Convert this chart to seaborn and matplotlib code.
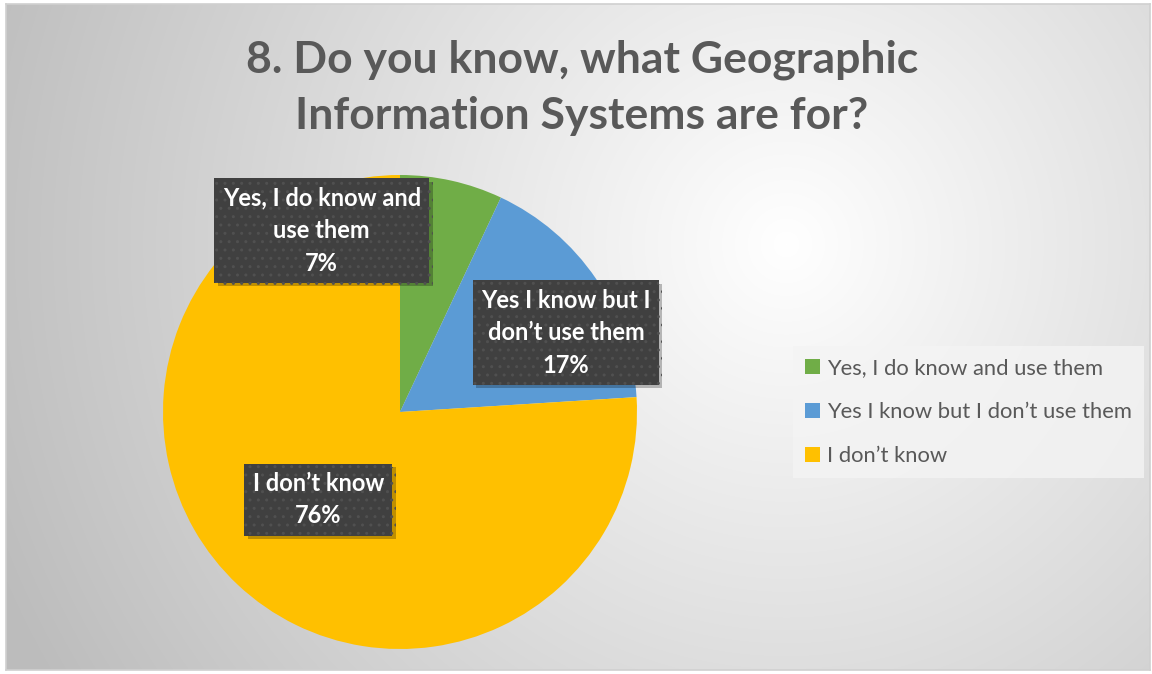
import numpy as np
import matplotlib.pyplot as plt
import matplotlib.patheffects as pe
import seaborn as sns

# data
categories = ["Yes, I do know and use them", "Yes I know but I don\u2019t use them", "I don\u2019t know"]
box_labels = ["Yes, I do know and\nuse them", "Yes I know but I\ndon\u2019t use them", "I don\u2019t know"]
shares = [7, 17, 76]
colors = ["#70AD47", "#5B9BD5", "#FFC000"]
title = "8. Do you know, what Geographic\nInformation Systems are for?"

sns.set_theme(style="white")
plt.rcParams['font.family'] = ['Lato', 'DejaVu Sans']

W, H = 1152, 674
fig = plt.figure(figsize=(W / 100, H / 100), dpi=100)
fig.patch.set_facecolor("white")

# background: radial gradient like the Excel chart area
bg = fig.add_axes([6 / W, 4 / H, 1144 / W, 666 / H])
yy, xx = np.mgrid[0:666, 0:1144]
d = np.sqrt((xx - 780) ** 2 + (yy - 240) ** 2) / 820
g = np.clip(1.0 - 0.25 * d, 0.74, 1.0)
bg.imshow(np.dstack([g, g, g]), aspect="auto", extent=[0, 1, 0, 1])
bg.set_xticks([])
bg.set_yticks([])
for s in bg.spines.values():
    s.set_color("#d0d0d0")
    s.set_linewidth(1.2)

# pie
cx, cy, r = 400, 412, 237
ax = fig.add_axes([(cx - r) / W, (H - cy - r) / H, 2 * r / W, 2 * r / H])
ax.set_facecolor("none")
wedges, _ = ax.pie(shares, colors=colors, startangle=90, counterclock=False,
                   radius=1, wedgeprops=dict(linewidth=0))
ax.set_xlim(-1, 1)
ax.set_ylim(-1, 1)
ax.set_aspect("equal")
ax.axis("off")

label_pos = [(-0.33, 0.765), (0.70, 0.335), (-0.345, -0.37)]
for (x, y), lab, v in zip(label_pos, box_labels, shares):
    t = ax.text(x, y, f"{lab}\n{v}%", ha="center", va="center",
                fontsize=17, fontweight="bold", color="white", linespacing=1.5,
                bbox=dict(boxstyle="square,pad=0.35", facecolor="#404040",
                          edgecolor="#505050", linewidth=0, hatch=".."))
    t.get_bbox_patch().set_path_effects(
        [pe.withSimplePatchShadow(offset=(2.5, -2.5), shadow_rgbFace="#000000", alpha=0.25)])

fig.text(582 / W, 1 - 88 / H, title, ha="center", va="center", fontsize=32,
         fontweight="bold", color="#595959", linespacing=1.5)

leg = fig.legend(wedges, categories, loc="center left",
                 bbox_to_anchor=(793 / W, 1 - 412 / H), frameon=True,
                 fontsize=15.8, labelcolor="#595959", handlelength=0.7, handleheight=0.7,
                 handletextpad=0.3, labelspacing=1.1, borderpad=0.55, borderaxespad=0,
                 fancybox=False)
leg.get_frame().set_facecolor("#f4f4f4")
leg.get_frame().set_alpha(0.8)
leg.get_frame().set_edgecolor("none")

fig.savefig("out.png", dpi=100)
